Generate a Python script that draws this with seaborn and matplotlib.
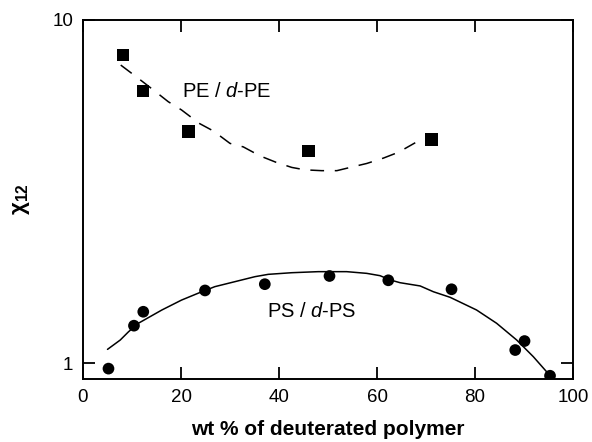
import matplotlib
matplotlib.use("Agg")
import matplotlib.pyplot as plt
from matplotlib.ticker import FixedLocator, FixedFormatter, NullLocator
import seaborn as sns
import pandas as pd

# PE / d-PE blend: measured chi_12 values and smooth guide line
pe_x = [8.1, 12.2, 21.5, 46.0, 71.1]
pe_y = [7.9, 6.2, 4.73, 4.16, 4.49]
pe_fit_x = [7.7, 11.0, 14.2, 17.4, 20.1, 23.7, 26.6, 30.0, 32.7, 36.1, 39.4,
            42.6, 45.3, 48.7, 51.8, 55.2, 57.9, 61.3, 64.4, 67.8]
pe_fit_y = [7.39, 6.81, 6.28, 5.78, 5.47, 5.00, 4.75, 4.37, 4.27, 4.02, 3.85,
            3.72, 3.66, 3.64, 3.64, 3.74, 3.82, 3.96, 4.12, 4.39]

# PS / d-PS blend
ps_x = [5.2, 10.4, 12.3, 24.9, 37.1, 50.3, 62.3, 75.2, 88.2, 90.1, 95.3]
ps_y = [0.965, 1.287, 1.413, 1.63, 1.70, 1.796, 1.745, 1.643, 1.093, 1.161, 0.920]
ps_fit_x = [5.0, 7.6, 9.3, 11.3, 16.1, 20.1, 23.5, 26.9, 31.0, 35.1, 37.8, 42.6,
            48.0, 53.8, 57.9, 60.6, 62.7, 64.7, 68.8, 71.5, 74.9, 80.3, 84.4,
            88.5, 91.9, 94.6, 95.3]
ps_fit_y = [1.098, 1.169, 1.236, 1.308, 1.43, 1.528, 1.60, 1.672, 1.729, 1.788,
            1.816, 1.836, 1.849, 1.849, 1.828, 1.80, 1.749, 1.717, 1.680, 1.616,
            1.557, 1.43, 1.308, 1.169, 1.045, 0.945, 0.925]

x_ticks = [0, 20, 40, 60, 80, 100]
y_ticks = [1, 10]
y_tick_labels = ["1", "10"]

sns.set_style("ticks")
plt.rcParams["font.family"] = ["Liberation Sans", "DejaVu Sans"]
plt.rcParams["mathtext.fontset"] = "custom"
plt.rcParams["mathtext.rm"] = "Liberation Sans"
plt.rcParams["mathtext.it"] = "Liberation Sans:italic"
plt.rcParams["mathtext.bf"] = "Liberation Sans:bold"
plt.rcParams["text.color"] = "black"
plt.rcParams["axes.labelcolor"] = "black"
plt.rcParams["xtick.color"] = "black"
plt.rcParams["ytick.color"] = "black"

fig = plt.figure(figsize=(5.92, 4.42), dpi=100)
ax = fig.add_axes([0.1402, 0.1425, 0.8278, 0.8123])

pe_pts = pd.DataFrame({"x": pe_x, "y": pe_y})
ps_pts = pd.DataFrame({"x": ps_x, "y": ps_y})
pe_fit = pd.DataFrame({"x": pe_fit_x, "y": pe_fit_y})
ps_fit = pd.DataFrame({"x": ps_fit_x, "y": ps_fit_y})

sns.lineplot(data=pe_fit, x="x", y="y", ax=ax, color="black", lw=1.1,
             sort=False, estimator=None)
ax.lines[-1].set_dashes((9, 7))
sns.lineplot(data=ps_fit, x="x", y="y", ax=ax, color="black", lw=1.1,
             sort=False, estimator=None)
sns.scatterplot(data=pe_pts, x="x", y="y", ax=ax, marker="s", s=79,
                color="black", edgecolor="none", zorder=3)
sns.scatterplot(data=ps_pts, x="x", y="y", ax=ax, marker="o", s=71,
                color="black", edgecolor="none", zorder=3)

ax.set_yscale("log")
ax.set_xlim(0, 100)
ax.set_ylim(0.9, 10)
ax.xaxis.set_major_locator(FixedLocator(x_ticks))
ax.yaxis.set_major_locator(FixedLocator(y_ticks))
ax.yaxis.set_major_formatter(FixedFormatter(y_tick_labels))
ax.yaxis.set_minor_locator(NullLocator())
ax.xaxis.set_minor_locator(NullLocator())

ax.tick_params(axis="both", which="major", direction="in", length=8.5,
               width=1.3, labelsize=13.5, top=True, right=True, pad=7,
               colors="black")
for sp in ax.spines.values():
    sp.set_linewidth(1.4)
    sp.set_color("black")

ax.text(20.2, 6.17, "PE / $\\mathit{d}$-PE", fontsize=14.5, va="center",
        ha="left", color="black")
ax.text(37.5, 1.413, "PS / $\\mathit{d}$-PS", fontsize=14.5, va="center",
        ha="left", color="black")

ax.set_xlabel("wt % of deuterated polymer", fontsize=15, fontweight="bold",
              labelpad=10)
ax.set_ylabel("χ$_{\\mathbf{12}}$", fontsize=16, fontweight="bold",
              labelpad=15)

fig.savefig("out.png", dpi=100)
